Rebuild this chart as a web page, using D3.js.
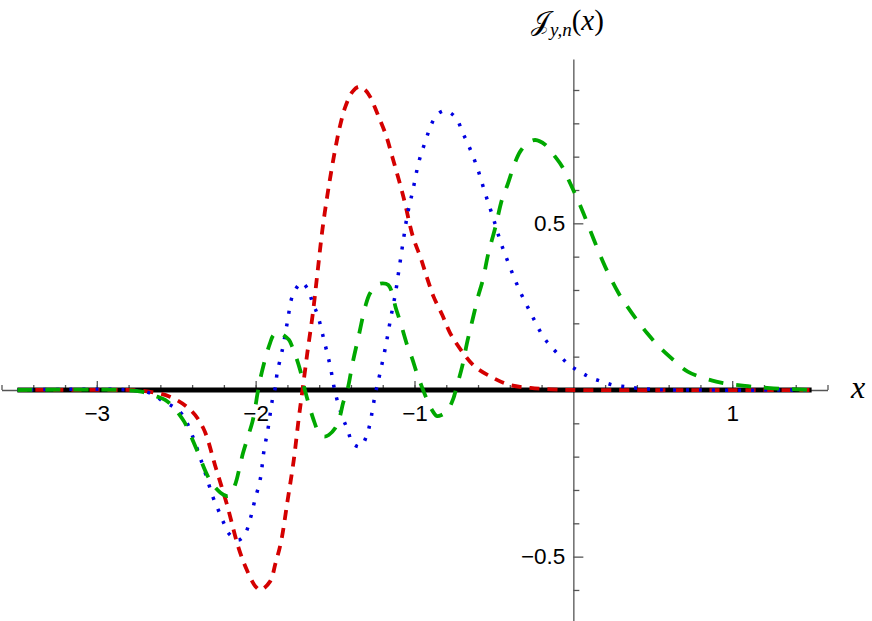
<!DOCTYPE html>
<html>
<head>
<meta charset="utf-8">
<script src="https://cdn.jsdelivr.net/npm/d3@7"></script>
<style>
  body { margin: 0; background: #fff; }
  svg { display: block; }
</style>
</head>
<body>
<svg id="chart"></svg>
<script>
// values
var zeroPts = [[-3.5, 0], [1.5, 0]];

var redPts = [[-3.5,0],[-2.9,0],[-2.72,-0.002],[-2.54,-0.02],[-2.41,-0.06],[-2.33,-0.114],[-2.25,-0.235],
  [-2.18,-0.345],[-2.11,-0.47],[-2.06,-0.535],[-2.0,-0.59],[-1.97,-0.6],[-1.91,-0.575],[-1.875,-0.52],
  [-1.84,-0.455],[-1.8,-0.335],[-1.76,-0.21],[-1.73,-0.09],[-1.705,0],[-1.675,0.11],[-1.64,0.23],
  [-1.61,0.355],[-1.58,0.48],[-1.54,0.61],[-1.5,0.72],[-1.47,0.79],[-1.435,0.85],[-1.39,0.895],
  [-1.35,0.91],[-1.31,0.9],[-1.28,0.88],[-1.23,0.825],[-1.18,0.765],[-1.14,0.7],[-1.07,0.58],
  [-1.01,0.46],[-0.96,0.395],[-0.92,0.335],[-0.88,0.28],[-0.825,0.225],[-0.775,0.17],[-0.7,0.115],
  [-0.62,0.07],[-0.5,0.035],[-0.4,0.015],[-0.27,0.006],[-0.14,0.002],[0,0],[1.5,0]];

var bluePts = [[-3.5,0],[-2.8,0],[-2.66,-0.01],[-2.58,-0.035],[-2.52,-0.05],[-2.46,-0.075],[-2.4,-0.135],
  [-2.32,-0.245],[-2.27,-0.32],[-2.235,-0.36],[-2.2,-0.4],[-2.17,-0.43],[-2.11,-0.45],[-2.07,-0.435],
  [-2.03,-0.38],[-2.01,-0.34],[-1.97,-0.265],[-1.95,-0.19],[-1.92,-0.11],[-1.895,-0.03],[-1.875,0.01],
  [-1.865,0.05],[-1.83,0.125],[-1.8,0.205],[-1.77,0.28],[-1.73,0.315],[-1.71,0.322],[-1.675,0.305],
  [-1.64,0.26],[-1.61,0.225],[-1.57,0.15],[-1.53,0.07],[-1.5,-0.006],[-1.455,-0.08],[-1.42,-0.12],
  [-1.39,-0.16],[-1.34,-0.17],[-1.3,-0.135],[-1.28,-0.1],[-1.25,-0.02],[-1.215,0.055],[-1.18,0.135],
  [-1.15,0.215],[-1.12,0.29],[-1.095,0.37],[-1.07,0.45],[-1.045,0.525],[-1.01,0.6],[-0.975,0.68],
  [-0.95,0.72],[-0.925,0.755],[-0.9,0.79],[-0.86,0.825],[-0.81,0.838],[-0.77,0.83],[-0.73,0.81],
  [-0.7,0.775],[-0.665,0.74],[-0.605,0.667],[-0.555,0.59],[-0.505,0.517],[-0.455,0.44],[-0.4,0.37],
  [-0.335,0.295],[-0.265,0.228],[-0.19,0.16],[-0.14,0.13],[-0.08,0.1],[-0.025,0.075],[0.04,0.055],
  [0.105,0.038],[0.18,0.025],[0.25,0.015],[0.33,0.01],[0.41,0.005],[0.55,0.001],[1.5,0]];

var greenPts = [[-3.5,0],[-2.85,0],[-2.72,-0.005],[-2.62,-0.02],[-2.57,-0.03],[-2.52,-0.05],[-2.45,-0.095],
  [-2.42,-0.125],[-2.37,-0.18],[-2.3,-0.26],[-2.25,-0.295],[-2.2,-0.315],[-2.17,-0.318],[-2.13,-0.285],
  [-2.1,-0.23],[-2.08,-0.19],[-2.045,-0.135],[-2.02,-0.095],[-2.0,-0.045],[-1.99,-0.015],[-1.97,0.035],
  [-1.95,0.075],[-1.93,0.11],[-1.91,0.14],[-1.89,0.163],[-1.86,0.175],[-1.825,0.165],[-1.79,0.15],
  [-1.77,0.13],[-1.75,0.105],[-1.72,0.06],[-1.69,0],[-1.655,-0.06],[-1.635,-0.09],[-1.605,-0.125],
  [-1.57,-0.14],[-1.54,-0.135],[-1.5,-0.115],[-1.47,-0.08],[-1.45,-0.04],[-1.42,0.005],[-1.39,0.08],
  [-1.35,0.165],[-1.31,0.25],[-1.28,0.29],[-1.235,0.315],[-1.2,0.32],[-1.165,0.315],[-1.14,0.29],
  [-1.12,0.25],[-1.09,0.205],[-1.04,0.125],[-1.015,0.095],[-0.985,0.05],[-0.95,0.005],[-0.92,-0.03],
  [-0.89,-0.06],[-0.86,-0.078],[-0.83,-0.075],[-0.79,-0.06],[-0.755,-0.025],[-0.74,0],[-0.7,0.07],
  [-0.67,0.14],[-0.65,0.18],[-0.62,0.24],[-0.6,0.28],[-0.57,0.33],[-0.535,0.41],[-0.49,0.49],
  [-0.45,0.57],[-0.415,0.615],[-0.365,0.685],[-0.335,0.715],[-0.29,0.74],[-0.24,0.75],[-0.175,0.735],
  [-0.115,0.7],[-0.07,0.67],[-0.02,0.62],[0.055,0.54],[0.13,0.45],[0.2,0.37],[0.285,0.29],[0.34,0.25],
  [0.4,0.21],[0.465,0.17],[0.55,0.125],[0.63,0.09],[0.72,0.055],[0.9,0.025],[1.08,0.012],[1.26,0.005],[1.5,0]];

var xMinorTicks = d3.range(-36, 17, 2).map(function(d) { return d / 10; }).filter(function(d) { return Math.abs(d) > 1e-9; });
var xMajorTicks = [-3, -2, -1, 1];
var yMinorTicks = [-0.6, -0.4, -0.3, -0.2, -0.1, 0.1, 0.2, 0.3, 0.4, 0.6, 0.7, 0.8, 0.9];
var yMajorTicks = [-0.5, 0.5];

var width = 872, height = 621;
var svg = d3.select("#chart").attr("width", width).attr("height", height);

var x = d3.scaleLinear().domain([-3.6, 1.6]).range([1.5, 827.5]);
var y = d3.scaleLinear().domain([-0.7, 0.993]).range([623.3, 59]);

var axisColor = "#555";
var fmt = function(d) { return d3.format("")(d).replace("-", "\u2212"); };

// x axis: ticks point up, labels below
var xg = svg.append("g").attr("transform", "translate(0," + y(0) + ")");
xg.call(d3.axisBottom(x).tickValues(xMinorTicks).tickSize(-5).tickSizeOuter(0).tickFormat(""));
var xg2 = svg.append("g").attr("transform", "translate(0," + y(0) + ")");
xg2.call(d3.axisBottom(x).tickValues(xMajorTicks).tickSize(-9).tickSizeOuter(0).tickPadding(15).tickFormat(fmt));
xg2.select(".domain").remove();

// y axis: ticks point right, labels left
var yg = svg.append("g").attr("transform", "translate(" + x(0) + ",0)");
yg.call(d3.axisLeft(y).tickValues(yMinorTicks).tickSize(-6).tickSizeOuter(0).tickFormat(""));
var yg2 = svg.append("g").attr("transform", "translate(" + x(0) + ",0)");
yg2.call(d3.axisLeft(y).tickValues(yMajorTicks).tickSize(-10).tickSizeOuter(0).tickPadding(8).tickFormat(fmt));
yg2.select(".domain").remove();

svg.selectAll(".domain, .tick line").attr("stroke", axisColor).attr("stroke-width", 1.3);
svg.selectAll(".tick text")
  .attr("fill", "#000")
  .style("font-family", "'Liberation Sans', Arial, sans-serif")
  .style("font-size", "22.5px");

// curves
var line = d3.line()
  .x(function(d) { return x(d[0]); })
  .y(function(d) { return y(d[1]); })
  .curve(d3.curveCatmullRom.alpha(0.5));

svg.append("path").datum(zeroPts)
  .attr("d", line).attr("fill", "none")
  .attr("stroke", "#000").attr("stroke-width", 5);

svg.append("path").datum(redPts)
  .attr("d", line).attr("fill", "none")
  .attr("stroke", "#d40000").attr("stroke-width", 3.8)
  .attr("stroke-dasharray", "10,8");

svg.append("path").datum(bluePts)
  .attr("d", line).attr("fill", "none")
  .attr("stroke", "#0000e0").attr("stroke-width", 3.5)
  .attr("stroke-dasharray", "3,10");

svg.append("path").datum(greenPts)
  .attr("d", line).attr("fill", "none")
  .attr("stroke", "#00a800").attr("stroke-width", 3.8)
  .attr("stroke-dasharray", "15,13");

// axis labels
svg.append("text")
  .attr("x", 851).attr("y", 398)
  .style("font-family", "'Liberation Serif', 'Times New Roman', serif")
  .style("font-style", "italic")
  .style("font-size", "32px")
  .text("x");

var ylab = svg.append("text")
  .attr("x", 531).attr("y", 30)
  .style("font-family", "'Liberation Serif', 'Times New Roman', serif")
  .style("font-size", "29px");
ylab.append("tspan").style("font-family", "'DejaVu Serif', serif").style("font-size", "27px").text("\uD835\uDCA5");
ylab.append("tspan").attr("dy", 6).style("font-size", "19px").style("font-style", "italic").text("y,n");
ylab.append("tspan").attr("dy", -6).text("(");
ylab.append("tspan").style("font-style", "italic").text("x");
ylab.append("tspan").text(")");
</script>
</body>
</html>
